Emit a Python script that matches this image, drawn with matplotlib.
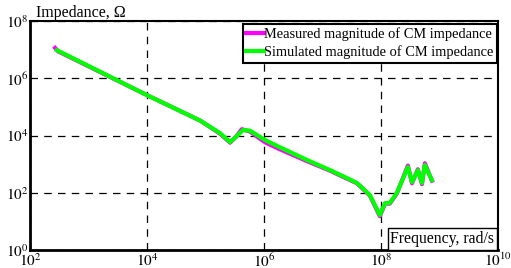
import numpy as np
import matplotlib
matplotlib.use("Agg")
import matplotlib.pyplot as plt

plt.rcParams['font.family'] = ['Liberation Serif', 'DejaVu Serif']
plt.rcParams['mathtext.fontset'] = 'stix'

# log10 of frequency (rad/s) and log10 of impedance (Ohm)
sim_logf = [2.46, 4.00, 4.91, 5.25, 5.42, 5.52, 5.64, 5.76, 6.02, 6.27, 6.74, 7.13,
            7.42, 7.59, 7.81, 7.98, 8.07, 8.15, 8.27, 8.46, 8.53, 8.63, 8.70, 8.75, 8.87]
sim_logz = [6.98, 5.41, 4.52, 4.08, 3.77, 3.95, 4.19, 4.17, 3.84, 3.59, 3.14, 2.79,
            2.51, 2.34, 1.92, 1.22, 1.64, 1.64, 1.99, 2.90, 2.37, 2.79, 2.34, 2.97, 2.44]
meas_logf = [2.43, 2.48, 4.00, 4.91, 5.25, 5.42, 5.52, 5.62, 5.76, 6.02, 6.27, 6.74, 7.13,
             7.42, 7.59, 7.81, 7.98, 8.07, 8.15, 8.27, 8.46, 8.53, 8.63, 8.70, 8.75, 8.87]
meas_logz = [7.06, 6.94, 5.41, 4.52, 4.06, 3.75, 3.95, 4.22, 4.14, 3.76, 3.52, 3.10, 2.77,
             2.49, 2.33, 1.90, 1.18, 1.62, 1.62, 1.97, 2.95, 2.33, 2.82, 2.30, 3.03, 2.42]

xticks = [1e2, 1e4, 1e6, 1e8, 1e10]
yticks = [1e0, 1e2, 1e4, 1e6, 1e8]

fig = plt.figure(figsize=(5.11, 2.68), dpi=100)
ax = fig.add_axes([30/511, 18/268, 468/511, 229/268])

ax.plot(10**np.array(meas_logf), 10**np.array(meas_logz), color='#ff00ff', lw=3,
        label='Measured magnitude of CM impedance', solid_joinstyle='round')
ax.plot(10**np.array(sim_logf), 10**np.array(sim_logz), color='#00ff00', lw=3,
        label='Simulated magnitude of CM impedance', solid_joinstyle='round')

ax.set_xscale('log')
ax.set_yscale('log')
ax.set_xlim(1e2, 1e10)
ax.set_ylim(1e0, 1e8)
ax.set_xticks(xticks)
ax.set_yticks(yticks)
ax.xaxis.set_minor_locator(matplotlib.ticker.NullLocator())
ax.yaxis.set_minor_locator(matplotlib.ticker.NullLocator())
ax.set_xticklabels([r'$10^{%d}$' % int(np.log10(v)) for v in xticks])
ax.set_yticklabels([r'$10^{%d}$' % int(np.log10(v)) for v in yticks])
ax.tick_params(length=0, labelsize=11)
ax.tick_params(axis='x', pad=1.5)
ax.tick_params(axis='y', pad=1)
ax.grid(True, color='black', linestyle=(0, (6, 5)), linewidth=0.9)
for s in ax.spines.values():
    s.set_linewidth(1.5)
ax.spines['left'].set_linewidth(2)
ax.spines['bottom'].set_linewidth(2)

leg = ax.legend(loc='upper right', bbox_to_anchor=(1.0, 0.995), borderaxespad=0.1,
                fontsize=10.4, frameon=True, fancybox=False, handlelength=1.2,
                handletextpad=0.0, borderpad=0.25, labelspacing=0.3)
leg.get_frame().set_edgecolor('black')
leg.get_frame().set_linewidth(1.5)
leg.get_frame().set_alpha(1)

ax.text(1 - 3.5/468, 3.0/229, 'Frequency, rad/s', transform=ax.transAxes, ha='right', va='bottom',
        fontsize=11.3, bbox=dict(facecolor='white', edgecolor='black', linewidth=1.0, pad=1.8))
fig.text(36/511, 1 - 13/268, 'Impedance, Ω', ha='left', va='center', fontsize=11.5)

fig.savefig('out.png', dpi=100)
